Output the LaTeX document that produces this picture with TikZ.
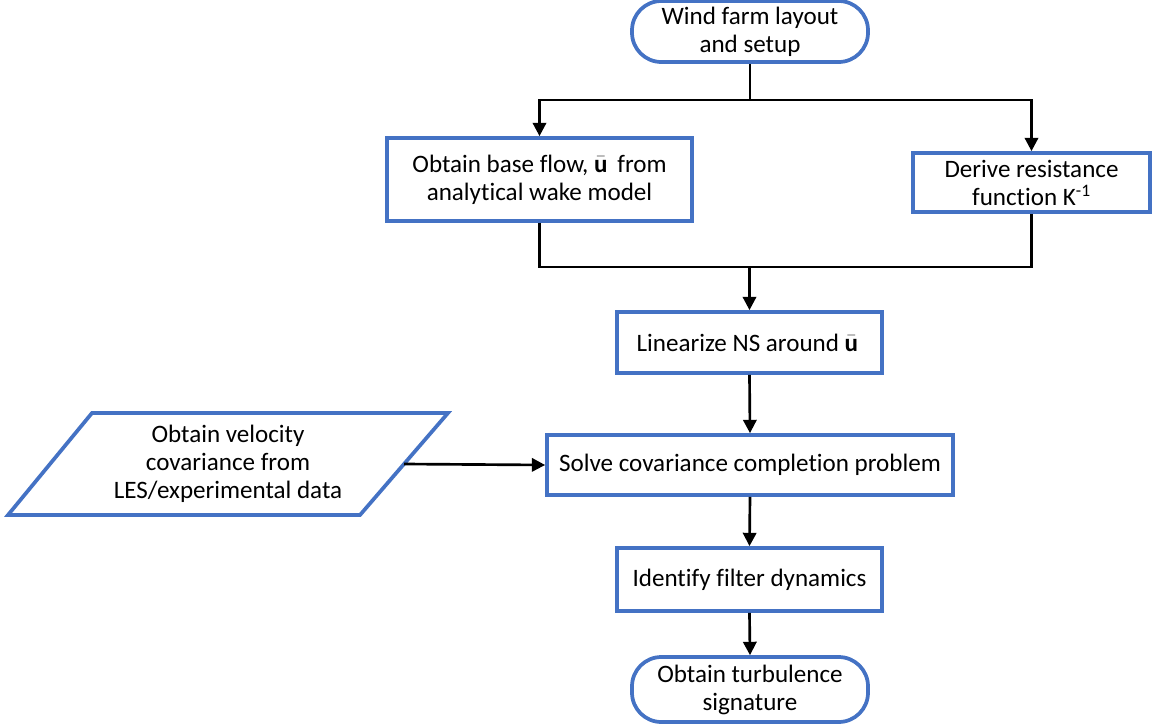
\documentclass[tikz,border=0pt]{standalone}
\usepackage{fontspec}
\setmainfont{Carlito}[Ligatures=NoCommon]
\usetikzlibrary{arrows.meta}
\definecolor{obl}{HTML}{4472C4}
\begin{document}
\begin{tikzpicture}[x=0.75pt,y=-0.75pt,
  txt/.style={font=\fontsize{18.8}{21}\selectfont},
  box/.style={draw=obl,line width=2.8pt,fill=white,align=center,txt,inner sep=0pt},
  term/.style={box,rounded corners=22pt},
  conn/.style={line width=2pt,-{Triangle[width=10pt,length=10pt]}},
  plain/.style={line width=2pt}]
\useasboundingbox (0,0) rectangle (1157,725);
\node[term,minimum width=177pt,minimum height=45.75pt] (top) at (750,31.5) {Wind farm layout\\and setup};
\node[box,minimum width=228.75pt,minimum height=62.25pt] (b1) at (539.5,179.5) {Obtain base flow, $\bar{\mathbf{u}}$\,\ from\\analytical wake model};
\node[box,minimum width=177.75pt,minimum height=44.25pt] (b2) at (1031.5,182.5) {Derive resistance\\function K\textsuperscript{-1}};
\node[box,minimum width=198.75pt,minimum height=45.75pt] (lin) at (749.5,342.5) {Linearize NS around $\bar{\mathbf{u}}$\,};
\node[box,minimum width=304.5pt,minimum height=45pt] (solve) at (750,465) {Solve covariance completion problem};
\node[box,minimum width=198.75pt,minimum height=47.25pt] (ident) at (749.5,579.5) {Identify filter dynamics};
\node[term,minimum width=177pt,minimum height=48.75pt] (bot) at (750,689.5) {Obtain turbulence\\signature};
% parallelogram
\draw[draw=obl,line width=2.8pt,line join=miter] (92,413) -- (448,413) -- (360,515) -- (8,515) -- cycle;
\node[align=center,txt,inner sep=0pt] (par) at (228,464) {Obtain velocity\\covariance from\\LES/experimental data};
\coordinate (parR) at (404,464);
% connectors
\draw[plain] (top.south) -- ++(0,36) coordinate (s);
\draw[conn] (s) -| (b1.north);
\draw[conn] (s) -| (b2.north);
\coordinate (m) at (lin.north |- 0,267);
\draw[plain] (b1.south) |- (m) -| (b2.south);
\draw[conn] (m) -- (lin.north);
\draw[conn] (lin.south) -- (solve.north);
\draw[conn] (parR) -- (solve.west);
\draw[conn] (solve.south) -- (ident.north);
\draw[conn] (ident.south) -- (bot.north);
\end{tikzpicture}
\end{document}
